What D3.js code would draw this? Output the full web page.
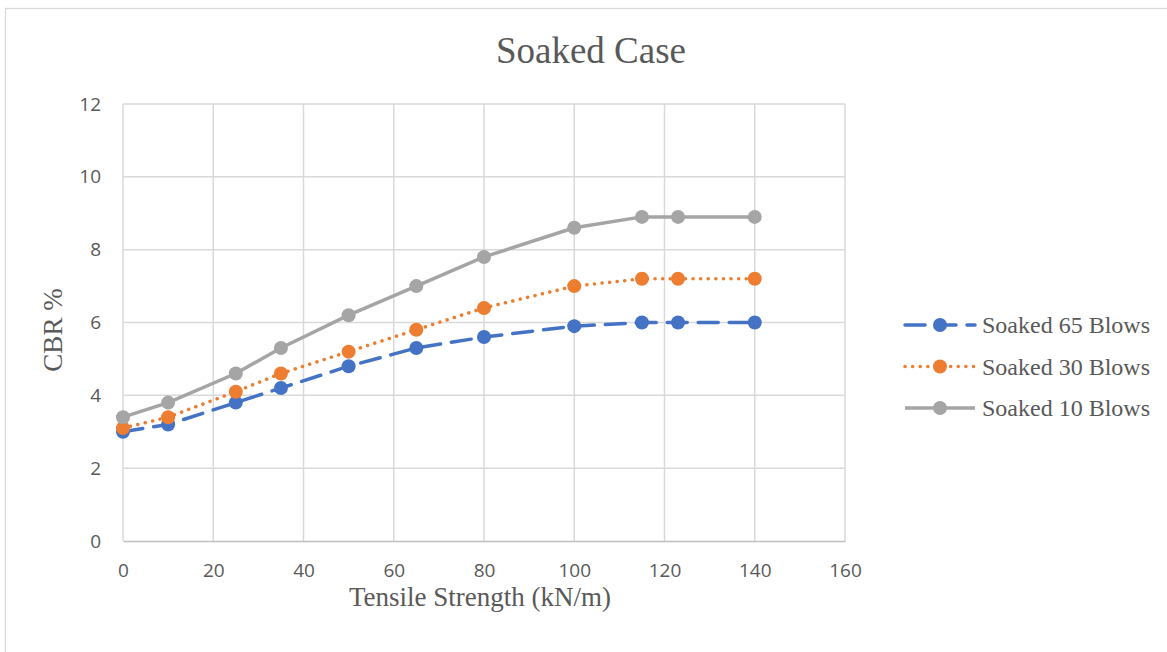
<!DOCTYPE html>
<html>
<head>
  <meta charset="utf-8">
  <title>Soaked Case</title>
  <script src="https://d3js.org/d3.v7.min.js"></script>
  <style>
    body { margin: 0; background: #fff; }
    .tick text { font-family: "Open Sans", "Noto Sans", sans-serif; font-size: 19px; fill: #595959; }
    .serif { font-family: "Liberation Serif", "DejaVu Serif", serif; fill: #595959; }
  </style>
</head>
<body>
<div id="chart"></div>
<script>
// data
var strength = [0, 10, 25, 35, 50, 65, 80, 100, 115, 123, 140];
var blows65 = [3.0, 3.2, 3.8, 4.2, 4.8, 5.3, 5.6, 5.9, 6.0, 6.0, 6.0];
var blows30 = [3.1, 3.4, 4.1, 4.6, 5.2, 5.8, 6.4, 7.0, 7.2, 7.2, 7.2];
var blows10 = [3.4, 3.8, 4.6, 5.3, 6.2, 7.0, 7.8, 8.6, 8.9, 8.9, 8.9];
var xTicks = [0, 20, 40, 60, 80, 100, 120, 140, 160];
var yTicks = [0, 2, 4, 6, 8, 10, 12];

var series = [
  {name: "Soaked 65 Blows", values: blows65, color: "#4472c4", dash: "20,11", cap: "round"},
  {name: "Soaked 30 Blows", values: blows30, color: "#ed7d31", dash: "0.1,7.5", cap: "round"},
  {name: "Soaked 10 Blows", values: blows10, color: "#a5a5a5", dash: null, cap: "butt"}
];

var W = 1167, H = 652;
var margin = {top: 104, right: 322, bottom: 111, left: 123},
    width = W - margin.left - margin.right,
    height = H - margin.top - margin.bottom;

var svg = d3.select("#chart").append("svg")
    .attr("width", W)
    .attr("height", H);

// outer chart border (only left and top show in the frame)
svg.append("rect")
    .attr("x", 5.5).attr("y", 8.5)
    .attr("width", W + 20).attr("height", H + 20)
    .attr("fill", "none")
    .attr("stroke", "#d9d9d9")
    .attr("stroke-width", 1.3);

var g = svg.append("g")
    .attr("transform", "translate(" + margin.left + "," + margin.top + ")");

var x = d3.scaleLinear().domain([0, 160]).range([0, width]);
var y = d3.scaleLinear().domain([0, 12]).range([height, 0]);

// gridlines
g.append("g").selectAll("line.h")
  .data(yTicks.slice(1))
  .enter().append("line")
    .attr("x1", 0).attr("x2", width)
    .attr("y1", function(d) { return y(d); })
    .attr("y2", function(d) { return y(d); })
    .attr("stroke", "#d9d9d9").attr("stroke-width", 1.5);
g.append("g").selectAll("line.v")
  .data(xTicks)
  .enter().append("line")
    .attr("x1", function(d) { return x(d); })
    .attr("x2", function(d) { return x(d); })
    .attr("y1", 0).attr("y2", height)
    .attr("stroke", "#d9d9d9").attr("stroke-width", 1.5);

// axes
var xAxis = g.append("g")
    .attr("transform", "translate(0," + height + ")")
    .call(d3.axisBottom(x).tickValues(xTicks).tickSize(0).tickPadding(23));
xAxis.select(".domain").attr("stroke", "#bfbfbf").attr("stroke-width", 1.5);

var yAxis = g.append("g")
    .call(d3.axisLeft(y).tickValues(yTicks).tickSize(0).tickPadding(22));
yAxis.select(".domain").remove();

// lines and markers
var line = d3.line()
    .x(function(d, i) { return x(strength[i]); })
    .y(function(d) { return y(d); });

series.forEach(function(s) {
  g.append("path")
    .datum(s.values)
    .attr("fill", "none")
    .attr("stroke", s.color)
    .attr("stroke-width", 3.5)
    .attr("stroke-linecap", s.cap)
    .attr("stroke-dasharray", s.dash)
    .attr("d", line);
  g.append("g").selectAll("circle")
    .data(s.values)
    .enter().append("circle")
      .attr("cx", function(d, i) { return x(strength[i]); })
      .attr("cy", function(d) { return y(d); })
      .attr("r", 7)
      .attr("fill", s.color);
});

// title and axis titles
svg.append("text")
    .attr("class", "serif")
    .attr("x", 591).attr("y", 63)
    .attr("text-anchor", "middle")
    .style("font-size", "37px")
    .text("Soaked Case");

svg.append("text")
    .attr("class", "serif")
    .attr("x", 480).attr("y", 606)
    .attr("text-anchor", "middle")
    .style("font-size", "27px")
    .text("Tensile Strength (kN/m)");

svg.append("text")
    .attr("class", "serif")
    .attr("transform", "translate(62,330) rotate(-90)")
    .attr("text-anchor", "middle")
    .style("font-size", "27px")
    .text("CBR %");

// legend
var legend = svg.append("g").selectAll("g")
  .data(series)
  .enter().append("g")
    .attr("transform", function(d, i) { return "translate(905," + (325 + i * 41.5) + ")"; });

legend.append("line")
    .attr("x1", 0).attr("x2", 70)
    .attr("y1", 0).attr("y2", 0)
    .attr("stroke", function(d) { return d.color; })
    .attr("stroke-width", 3.5)
    .attr("stroke-linecap", function(d) { return d.cap; })
    .attr("stroke-dasharray", function(d) { return d.dash; });
legend.append("circle")
    .attr("cx", 35).attr("cy", 0).attr("r", 7)
    .attr("fill", function(d) { return d.color; });
legend.append("text")
    .attr("class", "serif")
    .attr("x", 77).attr("y", 0)
    .attr("dy", "0.35em")
    .style("font-size", "24px")
    .text(function(d) { return d.name; });
</script>
</body>
</html>
